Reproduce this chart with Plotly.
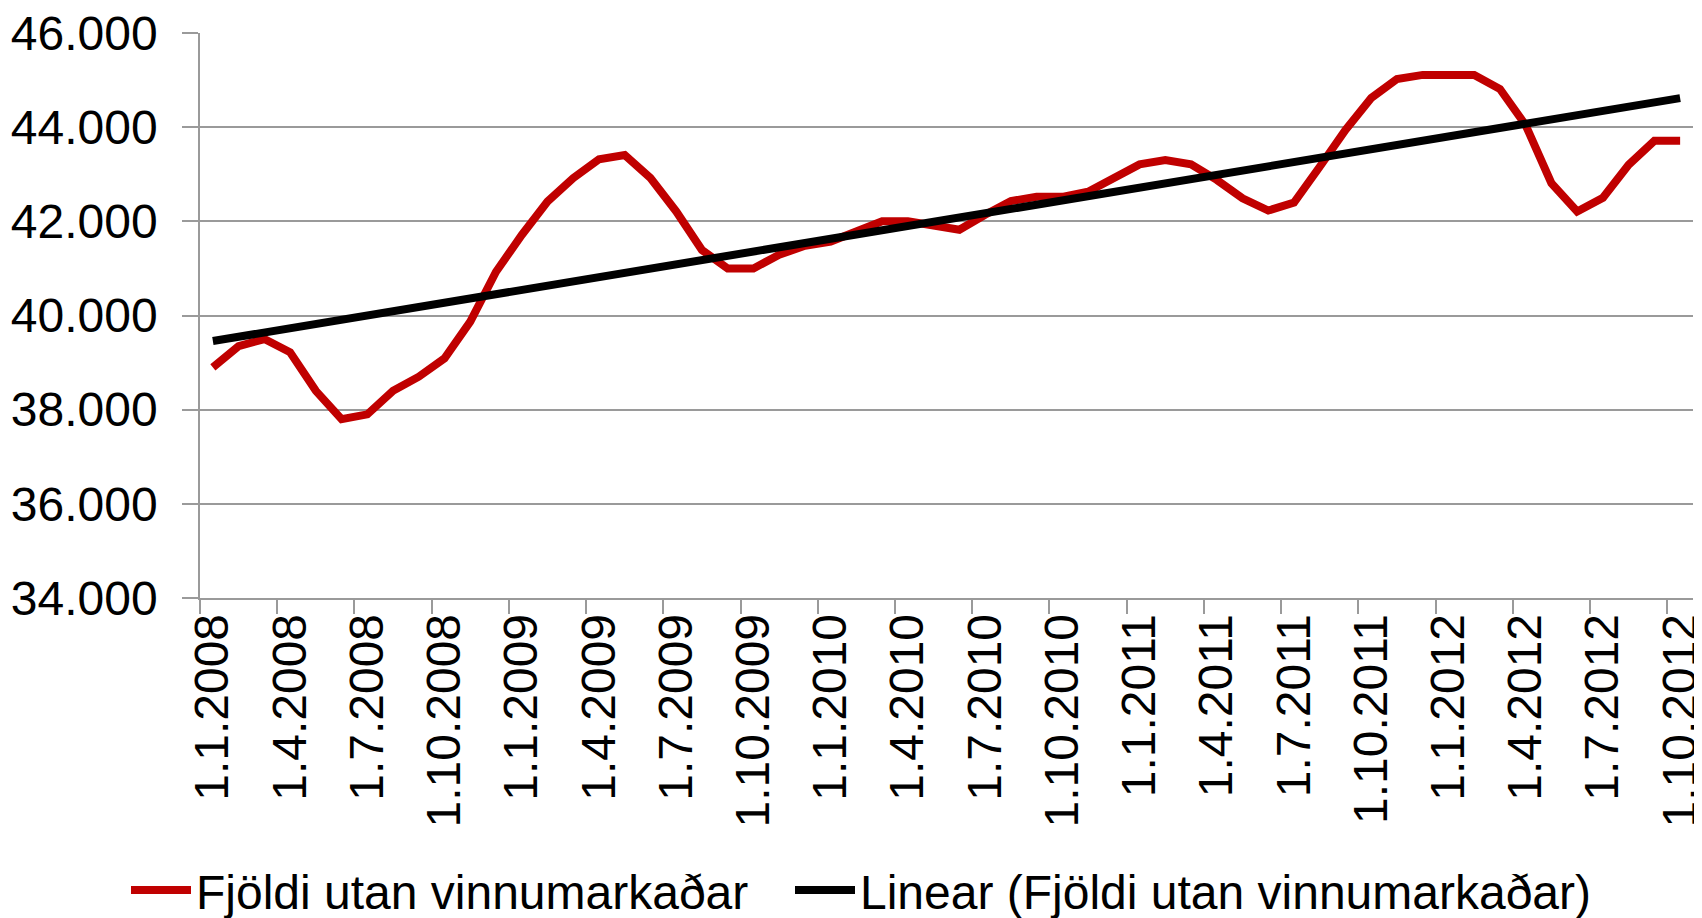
import numpy as np
import plotly.graph_objects as go

# Monthly observations, Jan 2008 .. Oct 2012
years = [2008, 2009, 2010, 2011, 2012]
month_labels = [f"1.{m}.{y}" for y in years for m in range(1, 13)][:58]

values = [
    38900, 39350, 39500, 39220, 38400, 37800, 37900, 38400, 38700, 39090,
    39870, 40930, 41710, 42420, 42920, 43320, 43410, 42920, 42210, 41390,
    41000, 41000, 41290, 41480, 41570, 41780, 42000, 42000, 41900, 41820,
    42140, 42430, 42520, 42520, 42630, 42930, 43210, 43300, 43210, 42880,
    42490, 42230, 42400, 43160, 43940, 44620, 45020, 45110, 45110, 45110,
    44810, 44040, 42810, 42210, 42500, 43200, 43710, 43710,
]

tick_labels = [
    "1.1.2008", "1.4.2008", "1.7.2008", "1.10.2008",
    "1.1.2009", "1.4.2009", "1.7.2009", "1.10.2009",
    "1.1.2010", "1.4.2010", "1.7.2010", "1.10.2010",
    "1.1.2011", "1.4.2011", "1.7.2011", "1.10.2011",
    "1.1.2012", "1.4.2012", "1.7.2012", "1.10.2012",
]

series_name = "Fjöldi utan vinnumarkaðar"
trend_name = "Linear (Fjöldi utan vinnumarkaðar)"

x = np.arange(len(values))
slope, intercept = np.polyfit(x, values, 1)
trend = slope * x + intercept

tick_pos = [month_labels.index(t) for t in tick_labels]

FONT = "Liberation Sans, Arial, sans-serif"
GRID = "#9a9a9a"

fig = go.Figure()
fig.add_trace(go.Scatter(
    x=x, y=values, mode="lines", name=series_name, legend="legend",
    line=dict(color="#c00000", width=8), hoverinfo="skip",
))
fig.add_trace(go.Scatter(
    x=[x[0], x[-1]], y=[trend[0], trend[-1]], mode="lines", name=trend_name,
    legend="legend2",
    line=dict(color="#000000", width=8), hoverinfo="skip",
))

legend_common = dict(
    orientation="h", xref="container", yref="container",
    xanchor="left", y=0.039, yanchor="middle",
    font=dict(family=FONT, size=48, color="black"),
    itemwidth=60, bgcolor="rgba(0,0,0,0)",
)

fig.update_layout(
    width=1702, height=918,
    margin=dict(l=192, r=17, t=25, b=328),
    paper_bgcolor="white", plot_bgcolor="white",
    separators=",.",
    font=dict(family=FONT, size=48, color="black"),
    showlegend=True,
    legend=dict(legend_common, x=118 / 1702),
    legend2=dict(legend_common, x=782 / 1702),
    xaxis=dict(
        range=[-0.5, len(values) - 0.5], automargin=False,
        tickmode="array", tickvals=tick_pos, ticktext=tick_labels,
        tickangle=-90, ticks="", showgrid=False, zeroline=False,
        showline=True, linecolor=GRID, linewidth=1.5,
        ticklabelstandoff=-5, ticklabeloverflow="allow",
        minor=dict(tickmode="linear", tick0=-0.5, dtick=3, ticks="outside",
                   ticklen=14, tickcolor=GRID, tickwidth=1.5, showgrid=False),
    ),
    yaxis=dict(
        range=[34000, 46000], dtick=2000, tick0=34000, tickformat=",d",
        automargin=False,
        ticks="outside", ticklen=16, tickcolor=GRID, tickwidth=1.5,
        showgrid=True, gridcolor=GRID, gridwidth=1.5, zeroline=False,
        showline=True, linecolor=GRID, linewidth=1.5,
        ticklabelstandoff=15, ticklabeloverflow="allow",
    ),
)

fig.write_html("out.html")
